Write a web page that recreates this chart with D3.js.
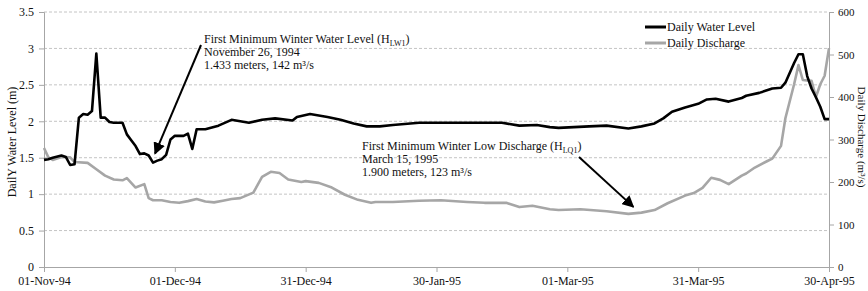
<!DOCTYPE html>
<html>
<head>
<meta charset="utf-8">
<script src="https://cdn.jsdelivr.net/npm/d3@7"></script>
<style>
  body { margin: 0; background: #fff; }
  text { font-family: "Liberation Serif", "Times New Roman", serif; fill: #111; }
</style>
</head>
<body>
<svg width="868" height="291"></svg>
<script>
// daily water level (m)
var levelDates = ["1994-11-01","1994-11-02","1994-11-03","1994-11-05","1994-11-06","1994-11-07","1994-11-08",
  "1994-11-09","1994-11-10","1994-11-11","1994-11-12","1994-11-13","1994-11-14","1994-11-15","1994-11-16",
  "1994-11-17","1994-11-19","1994-11-20","1994-11-21","1994-11-22","1994-11-23","1994-11-24","1994-11-25",
  "1994-11-26","1994-11-27","1994-11-28","1994-11-29","1994-11-30","1994-12-01","1994-12-03","1994-12-04",
  "1994-12-05","1994-12-06","1994-12-08","1994-12-11","1994-12-14","1994-12-16","1994-12-18","1994-12-21",
  "1994-12-24","1994-12-28","1994-12-29","1995-01-01","1995-01-05","1995-01-08","1995-01-11","1995-01-14",
  "1995-01-17","1995-01-20","1995-01-26","1995-02-03","1995-02-07","1995-02-14","1995-02-18","1995-02-22",
  "1995-02-25","1995-02-27","1995-03-06","1995-03-10","1995-03-15","1995-03-18","1995-03-21","1995-03-23",
  "1995-03-25","1995-03-28","1995-03-31","1995-04-02","1995-04-04","1995-04-07","1995-04-10","1995-04-11",
  "1995-04-14","1995-04-17","1995-04-19","1995-04-20","1995-04-22","1995-04-23","1995-04-24","1995-04-25",
  "1995-04-26","1995-04-27","1995-04-28","1995-04-29","1995-04-30"];
var levelValues = [1.47,1.48,1.50,1.53,1.51,1.40,1.41,
  2.05,2.10,2.09,2.14,2.93,2.05,2.05,1.99,
  1.98,1.98,1.82,1.74,1.66,1.55,1.56,1.53,
  1.433,1.46,1.48,1.54,1.75,1.80,1.80,1.83,
  1.62,1.89,1.89,1.94,2.02,2.00,1.98,2.02,
  2.04,2.01,2.06,2.10,2.06,2.02,1.97,1.93,
  1.93,1.95,1.98,1.98,1.98,1.98,1.94,1.95,
  1.92,1.91,1.93,1.94,1.90,1.93,1.97,2.04,
  2.13,2.19,2.24,2.30,2.31,2.27,2.32,2.35,
  2.39,2.45,2.46,2.53,2.80,2.92,2.92,2.62,
  2.45,2.33,2.20,2.03,2.03];

// daily discharge (m3/s)
var dischargeDates = ["1994-11-01","1994-11-02","1994-11-03","1994-11-05","1994-11-07","1994-11-08","1994-11-11",
  "1994-11-13","1994-11-15","1994-11-17","1994-11-19","1994-11-20","1994-11-22","1994-11-24","1994-11-25",
  "1994-11-26","1994-11-28","1994-11-30","1994-12-02","1994-12-04","1994-12-06","1994-12-08","1994-12-10",
  "1994-12-12","1994-12-14","1994-12-16","1994-12-19","1994-12-21","1994-12-23","1994-12-25","1994-12-27",
  "1994-12-30","1994-12-31","1995-01-03","1995-01-06","1995-01-09","1995-01-12","1995-01-15","1995-01-16",
  "1995-01-20","1995-01-26","1995-01-31","1995-02-06","1995-02-10","1995-02-15","1995-02-18","1995-02-21",
  "1995-02-25","1995-02-27","1995-03-04","1995-03-10","1995-03-15","1995-03-18","1995-03-21","1995-03-24",
  "1995-03-28","1995-03-30","1995-04-01","1995-04-03","1995-04-05","1995-04-07","1995-04-10","1995-04-11",
  "1995-04-13","1995-04-16","1995-04-17","1995-04-19","1995-04-20","1995-04-22","1995-04-23","1995-04-24",
  "1995-04-26","1995-04-27","1995-04-28","1995-04-29","1995-04-30"];
var dischargeValues = [280,258,252,259,258,247,245,
  230,215,206,204,209,187,195,162,
  157,157,153,151,155,160,154,152,
  156,160,162,175,212,224,221,206,
  200,202,198,187,170,158,151,153,
  153,156,157,153,151,151,141,144,
  136,134,136,131,125,128,134,150,
  168,174,186,210,205,195,215,220,
  234,250,255,285,350,430,475,440,
  438,400,430,450,515];

var leftTicks = [0, 0.5, 1, 1.5, 2, 2.5, 3, 3.5];
var rightTicks = [0, 100, 200, 300, 400, 500, 600];
var dateTicks = ["1994-11-01","1994-12-01","1994-12-31","1995-01-30","1995-03-01","1995-03-31","1995-04-30"];
var seriesNames = ["Daily Water Level", "Daily Discharge"];

var parse = d3.utcParse("%Y-%m-%d");
var svg = d3.select("svg");

var x = d3.scaleUtc()
  .domain([parse(dateTicks[0]), parse(dateTicks[dateTicks.length - 1])])
  .range([44, 829]);
var yLeft = d3.scaleLinear().domain([0, 3.5]).range([267, 12]);
var yRight = d3.scaleLinear().domain([0, 600]).range([267, 12]);

// gridlines
svg.append("g")
  .selectAll("line")
  .data(leftTicks.slice(1))
  .enter().append("line")
    .attr("x1", 44).attr("x2", 829)
    .attr("y1", d => yLeft(d)).attr("y2", d => yLeft(d))
    .attr("stroke", "#c4c4c4")
    .attr("stroke-dasharray", "3,2");

// axes
function styleAxis(size) {
  return function (g) {
    g.select(".domain").attr("stroke", "#a6a6a6");
    g.selectAll(".tick line").attr("stroke", "#a6a6a6");
    g.selectAll(".tick text").style("font-size", size + "px").attr("fill", "#111");
  };
}

svg.append("g")
  .attr("transform", "translate(44,0)")
  .call(d3.axisLeft(yLeft).tickValues(leftTicks).tickFormat(d => String(d)).tickSizeOuter(0).tickSize(5).tickPadding(5))
  .call(styleAxis(12));

svg.append("g")
  .attr("transform", "translate(829,0)")
  .call(d3.axisRight(yRight).tickValues(rightTicks).tickSizeOuter(0).tickSize(5).tickPadding(4))
  .call(styleAxis(11));

svg.append("g")
  .attr("transform", "translate(0,267)")
  .call(d3.axisBottom(x).tickValues(dateTicks.map(parse)).tickFormat(d3.utcFormat("%d-%b-%y")).tickSizeOuter(0).tickSize(5).tickPadding(4))
  .call(styleAxis(12));

// lines
var dischargeData = dischargeDates.map((d, i) => ({date: parse(d), value: dischargeValues[i]}));
var levelData = levelDates.map((d, i) => ({date: parse(d), value: levelValues[i]}));

svg.append("path")
  .datum(dischargeData)
  .attr("fill", "none")
  .attr("stroke", "#a6a6a6")
  .attr("stroke-width", 2.6)
  .attr("stroke-linejoin", "round")
  .attr("d", d3.line().x(d => x(d.date)).y(d => yRight(d.value)));

svg.append("path")
  .datum(levelData)
  .attr("fill", "none")
  .attr("stroke", "#000")
  .attr("stroke-width", 2.6)
  .attr("stroke-linejoin", "round")
  .attr("d", d3.line().x(d => x(d.date)).y(d => yLeft(d.value)));

// axis titles
svg.append("text")
  .attr("transform", "translate(16,142) rotate(-90)")
  .attr("text-anchor", "middle")
  .style("font-size", "12px")
  .text("DailY Water Level (m)");

svg.append("text")
  .attr("transform", "translate(858,137) rotate(90)")
  .attr("text-anchor", "middle")
  .style("font-size", "11px")
  .text("Daily Discharge (m³/s)");

// legend
var legend = svg.append("g").attr("transform", "translate(645,27)");
seriesNames.forEach(function (name, i) {
  var row = legend.append("g").attr("transform", "translate(0," + i * 16 + ")");
  row.append("line")
    .attr("x1", 0).attr("x2", 21)
    .attr("stroke", i === 0 ? "#000" : "#a6a6a6")
    .attr("stroke-width", 3);
  row.append("text")
    .attr("x", 22).attr("y", 4)
    .style("font-size", "12px")
    .text(name);
});

// annotations
svg.append("defs").append("marker")
  .attr("id", "arrow")
  .attr("viewBox", "0 0 10 10")
  .attr("refX", 9).attr("refY", 5)
  .attr("markerWidth", 6).attr("markerHeight", 6)
  .attr("orient", "auto")
  .append("path")
    .attr("d", "M0,0L10,5L0,10z")
    .attr("fill", "#000");

function annotate(lines, tx, ty, from, tip, sub) {
  var t = svg.append("text").attr("x", tx).attr("y", ty).style("font-size", "12px");
  lines.forEach(function (l, i) {
    var span = t.append("tspan").attr("x", tx).attr("dy", i === 0 ? 0 : 13);
    if (i === 0) {
      span.text(l + " (H");
      t.append("tspan").attr("dy", 3).style("font-size", "8px").text(sub);
      t.append("tspan").attr("dy", -3).text(")");
    } else {
      span.text(l);
    }
  });
  svg.append("line")
    .attr("x1", from[0]).attr("y1", from[1])
    .attr("x2", tip[0]).attr("y2", tip[1])
    .attr("stroke", "#000")
    .attr("stroke-width", 2)
    .attr("marker-end", "url(#arrow)");
}

var minLevelDate = parse("1994-11-26");
annotate(["First Minimum Winter Water Level", "November 26, 1994", "1.433 meters, 142 m³/s"],
  204, 43, [201, 45], [x(minLevelDate) + 2, yLeft(1.433) - 9], "LW1");

var minFlowDate = parse("1995-03-15");
annotate(["First Minimum Winter Low Discharge", "March 15, 1995", "1.900 meters, 123 m³/s"],
  362, 150, [579, 157], [x(minFlowDate) + 5, yRight(125) - 7], "LQ1");
</script>
</body>
</html>
